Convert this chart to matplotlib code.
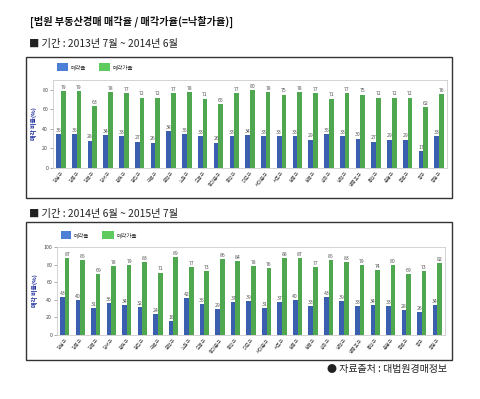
import matplotlib
matplotlib.use("Agg")
import matplotlib.pyplot as plt
from matplotlib.patches import Rectangle
import numpy as np

plt.rcParams['font.family'] = ['Noto Sans CJK KR', 'DejaVu Sans']

districts = ["강남구", "강동구", "강북구", "강서구", "관악구", "광진구", "구로구", "금천구",
             "노원구", "도봉구", "동대문구", "동작구", "마포구", "서대문구", "서초구", "성동구",
             "성북구", "송파구", "양천구", "영등포구", "용산구", "은평구", "종로구", "중구", "중랑구"]

sale_rate_1 = [35, 35, 28, 34, 33, 27, 26, 38, 35, 33, 26, 33, 34, 33, 33, 33, 29, 35, 33, 30, 27, 29, 29, 17, 33]
price_rate_1 = [79, 79, 63, 78, 77, 72, 72, 77, 78, 71, 65, 77, 80, 78, 75, 78, 77, 71, 77, 75, 72, 72, 72, 62, 76]

sale_rate_2 = [43, 40, 31, 36, 34, 32, 24, 16, 42, 35, 29, 37, 39, 31, 37, 40, 33, 43, 39, 33, 34, 33, 28, 26, 34]
price_rate_2 = [87, 85, 69, 78, 79, 83, 71, 89, 77, 73, 86, 84, 78, 76, 88, 87, 77, 85, 83, 79, 74, 80, 69, 73, 82]

legend_labels = ["매각율", "매각가율"]
yticks_1 = [0, 20, 40, 60, 80]
yticks_2 = [0, 20, 40, 60, 80, 100]

W, H = 481, 399
fig = plt.figure(figsize=(W / 100, H / 100), dpi=100)
fig.patch.set_facecolor('white')

BLUE = '#3a5fae'
GREEN = '#4fa84f'
LBLUE = '#4d7fd6'
LGREEN = '#5fcb5f'


def fx(x):
    return x / W


def fy(y):
    return 1 - y / H


def add_ax(x0, y0, x1, y1):
    return fig.add_axes([fx(x0), fy(y1), (x1 - x0) / W, (y1 - y0) / H])


def box(x0, y0, x1, y1):
    fig.patches.append(Rectangle((fx(x0), fy(y1)), (x1 - x0) / W, (y1 - y0) / H,
                                 transform=fig.transFigure, fill=False,
                                 edgecolor='#333333', linewidth=1.0))


def legend(y, bx, tx, gx, gtx):
    fig.patches.append(Rectangle((fx(bx[0]), fy(y + 4)), (bx[1] - bx[0]) / W, 8 / H,
                                 transform=fig.transFigure, facecolor=LBLUE, edgecolor='none'))
    fig.text(fx(tx), fy(y), legend_labels[0], fontsize=4, va='center', ha='left', color='#333333')
    fig.patches.append(Rectangle((fx(gx[0]), fy(y + 4)), (gx[1] - gx[0]) / W, 8 / H,
                                 transform=fig.transFigure, facecolor=LGREEN, edgecolor='none'))
    fig.text(fx(gtx), fy(y), legend_labels[1], fontsize=4, va='center', ha='left', color='#333333')


def panel(ax, blue, green, ymax, yticks):
    x = np.arange(len(districts))
    w = 0.30
    off = 0.15
    ax.bar(x - off, blue, width=w, color=BLUE, edgecolor='none')
    ax.bar(x + off, green, width=w, color=GREEN, edgecolor='none')
    for xi, v in zip(x, blue):
        ax.text(xi - off, v + 1.2, str(v), ha='center', va='bottom', fontsize=3.7, color='#555555')
    for xi, v in zip(x, green):
        ax.text(xi + off, v + 1.2, str(v), ha='center', va='bottom', fontsize=3.7, color='#555555')
    ax.set_xlim(-0.5, len(districts) - 0.5)
    ax.set_ylim(0, ymax)
    ax.set_yticks(yticks)
    ax.set_yticklabels([str(t) for t in yticks], fontsize=3.8, color='#444444')
    ax.set_xticks(x)
    ax.set_xticklabels(districts, rotation=50, ha='right', rotation_mode='anchor',
                       fontsize=3.4, color='#444444')
    ax.tick_params(axis='y', length=2, width=0.5, color='#888888', pad=1.5)
    ax.tick_params(axis='x', length=0, pad=2)
    for s in ax.spines.values():
        s.set_edgecolor('#cccccc')
        s.set_linewidth(0.6)
    ax.set_ylabel("매각 비율(%)", fontsize=4.2, color='#1a2a9a', fontweight='bold', labelpad=4)


# Title and headings
fig.text(fx(30), fy(22), "[법원 부동산경매 매각율 / 매각가율(=낙찰가율)]", fontsize=7.3,
         fontweight='bold', va='center', ha='left', color='#111111')
fig.text(fx(29), fy(44), "■ 기간 : 2013년 7월 ~ 2014년 6월", fontsize=7.4, va='center', ha='left',
         color='#222222')
fig.text(fx(29), fy(214), "■ 기간 : 2014년 6월 ~ 2015년 7월", fontsize=7.4, va='center', ha='left',
         color='#222222')

# Panel 1
box(26, 57, 452, 198)
legend(67, (57, 68), 71, (99, 110), 113)
ax1 = add_ax(53, 80, 447, 168)
panel(ax1, sale_rate_1, price_rate_1, 90, yticks_1)

# Panel 2
box(26, 222, 452, 360)
legend(235, (61, 71), 74, (102, 114), 117)
ax2 = add_ax(57, 247, 445, 335)
panel(ax2, sale_rate_2, price_rate_2, 100, yticks_2)

fig.text(fx(327), fy(369), "● 자료출처 : 대법원경매정보", fontsize=7.2, va='center', ha='left',
         color='#222222')

fig.savefig("out.png", dpi=100, facecolor='white')
